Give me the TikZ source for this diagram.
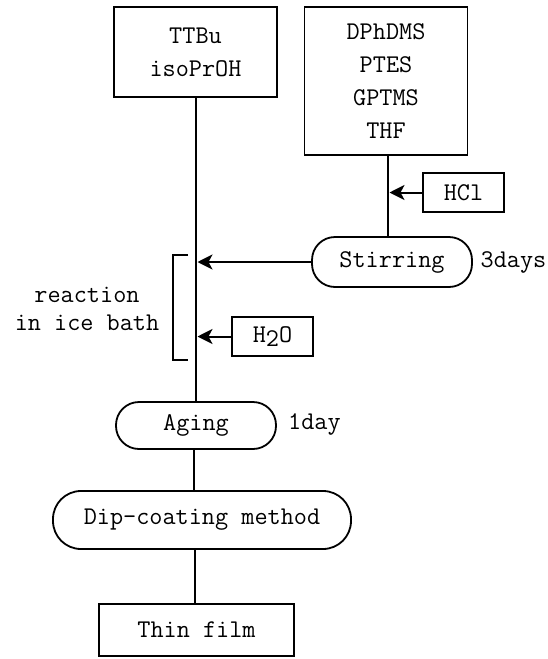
\documentclass[tikz,border=0pt]{standalone}
\usepackage{fontspec}
\usetikzlibrary{arrows.meta}
\begin{document}
\begin{tikzpicture}[x=1pt,y=-1pt,
  font=\ttfamily\fontsize{25.5}{33}\selectfont,
  box/.style={draw,line width=1.8pt,align=center,inner sep=0pt},
  capsule/.style={draw,line width=1.8pt,rounded corners=23pt,inner sep=0pt},
  lbl/.style={anchor=west,inner sep=0pt},
  conn/.style={line width=2.4pt},
  arr/.style={line width=2pt,-{Stealth[length=15pt,width=15pt,inset=4pt]},shorten >=1.5pt}]
\useasboundingbox (0,0) rectangle (548,659);
\node[box,minimum width=163pt,minimum height=90pt] (ttbu) at (195.5,52) {TTBu\\isoPrOH};
\node[box,minimum width=163pt,minimum height=148pt] (dph) at (386,81) {DPhDMS\\PTES\\GPTMS\\THF};
\node[box,minimum width=81pt,minimum height=39pt] (hcl) at (463.5,192.5) {HCl};
\node[capsule,minimum width=160pt,minimum height=50pt] (stir) at (392,262) {Stirring};
\node[lbl] (d3) at (480.5,262) {3days};
\node[box,minimum width=81pt,minimum height=39pt] (h2o) at (272.5,336.5) {H\raisebox{-0.4ex}{2}O};
\node[capsule,minimum width=160pt,minimum height=47pt] (aging) at (196,425.5) {Aging};
\node[lbl] (d1) at (288,424) {1day};
\node[capsule,minimum width=298pt,minimum height=58pt,rounded corners=28pt] (dip) at (202,520) {Dip-coating method};
\node[box,minimum width=195pt,minimum height=52pt] (thin) at (196.5,630) {Thin film};
\node[align=center,font=\ttfamily\fontsize{25.5}{28}\selectfont] (ice) at (87,309) {reaction\\in ice bath};
% main lines
\coordinate (mtop) at (196,97);
\draw[conn] (mtop) -- (mtop |- aging.north);
\coordinate (rtop) at (388,155);
\draw[conn] (rtop) -- (rtop |- stir.north);
\coordinate (a1) at (194,449);
\draw[conn] (a1) -- (a1 |- dip.north);
\coordinate (d2) at (195,549);
\draw[conn] (d2) -- (d2 |- thin.north);
% arrows
\draw[arr] (hcl.west) -- (hcl.west -| rtop);
\draw[arr] (stir.west) -- (stir.west -| mtop);
\draw[arr] (h2o.west) -- (h2o.west -| mtop);
% bracket
\coordinate (b1) at (188,255);
\coordinate (b2) at (173,255);
\coordinate (b3) at (173,360);
\coordinate (b4) at (188,360);
\draw[line width=2pt] (b1) -- (b2) -- (b3) -- (b4);
\end{tikzpicture}
\end{document}
